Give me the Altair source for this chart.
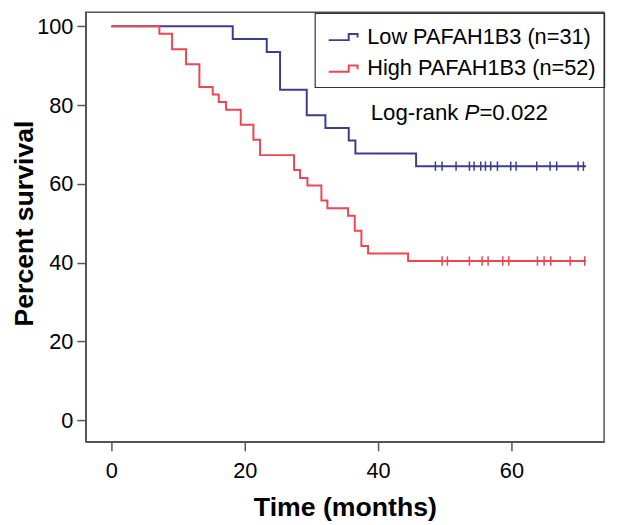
import altair as alt
import pandas as pd

# ---------------- data ----------------
low_label = "Low PAFAH1B3 (n=31)"
high_label = "High PAFAH1B3 (n=52)"

low_time = [0, 18.2, 23.3, 25.3, 29.3, 32.1, 35.6, 36.6, 45.7, 71.2]
low_surv = [100, 96.8, 93.5, 83.9, 77.4, 74.2, 71.0, 67.7, 64.5, 64.5]

high_time = [0, 7.2, 9.1, 11.2, 13.2, 15.2, 16.1, 17.2, 19.4, 21.3, 22.3,
             27.4, 28.3, 29.4, 31.5, 32.4, 35.5, 36.5, 37.5, 38.5, 44.5, 71.2]
high_surv = [100, 98.1, 94.2, 90.4, 84.6, 82.7, 80.8, 78.8, 75.0, 71.2, 67.3,
             63.5, 61.5, 59.6, 55.8, 53.8, 51.9, 48.1, 44.2, 42.3, 40.4, 40.4]

low_censor_time = [48.6, 49.6, 51.7, 53.7, 54.4, 55.4, 56.1, 56.9, 57.9,
                   59.9, 60.7, 63.8, 65.8, 66.8, 70.0, 70.8]
low_censor_surv = [64.5] * len(low_censor_time)
high_censor_time = [49.6, 50.4, 53.7, 55.6, 56.5, 58.7, 59.6, 63.9, 64.9,
                    65.9, 68.8, 71.0]
high_censor_surv = [40.4] * len(high_censor_time)

x_ticks = [0, 20, 40, 60]
y_ticks = [0, 20, 40, 60, 80, 100]

annot_x = [38.9]
annot_y = [76.2]

BLUE = "#3c3d8f"
RED = "#ee4651"
FONT = "Liberation Sans"

low_df = pd.DataFrame({"time": low_time, "surv": low_surv, "group": low_label})
high_df = pd.DataFrame({"time": high_time, "surv": high_surv, "group": high_label})
low_c = pd.DataFrame({"time": low_censor_time, "surv": low_censor_surv})
high_c = pd.DataFrame({"time": high_censor_time, "surv": high_censor_surv})
ann = pd.DataFrame({"time": annot_x, "surv": annot_y})

x_enc = alt.X(
    "time:Q",
    scale=alt.Scale(domain=[-3.85, 73.9], nice=False, zero=False),
    axis=alt.Axis(
        values=x_ticks, title="Time (months)", grid=False, tickSize=9,
        labelFontSize=22, labelBaseline="alphabetic", labelPadding=27,
        titleFontSize=27, titleFontWeight="bold", titleBaseline="alphabetic",
        titleY=75,
    ),
)
y_enc = alt.Y(
    "surv:Q",
    scale=alt.Scale(domain=[-5.5, 103.6], nice=False, zero=False),
    axis=alt.Axis(
        values=y_ticks, title="Percent survival", grid=False, tickSize=9,
        labelFontSize=22, labelPadding=4,
        titleFontSize=27, titleFontWeight="bold", titleBaseline="alphabetic",
        titleX=-54, titleY=213.5, titleAngle=270,
    ),
)

color_enc = alt.Color(
    "group:N",
    scale=alt.Scale(domain=[low_label, high_label], range=[BLUE, RED]),
    legend=alt.Legend(
        title=None, orient="none", legendX=232, legendY=1, direction="vertical",
        symbolType="M-1,0.22L0.35,0.22L0.35,-0.2L0.95,-0.2L0.95,0.05",
        symbolSize=900, symbolStrokeWidth=2, symbolFillColor="transparent",
        labelFontSize=22, labelFont=FONT, labelColor="black", labelOffset=8,
        labelLimit=0,
        strokeColor="#333333", padding=8, rowPadding=5, symbolOffset=5,
    ),
)

low_line = alt.Chart(low_df).mark_line(interpolate="step-after", strokeWidth=2).encode(
    x=x_enc, y=y_enc, color=color_enc)
high_line = alt.Chart(high_df).mark_line(interpolate="step-after", strokeWidth=2).encode(
    x=x_enc, y=y_enc, color=color_enc)

low_ticks = alt.Chart(low_c).mark_point(
    shape="M0,-1L0,1", size=90, filled=False, strokeWidth=1.5, color=BLUE, opacity=1
).encode(x=x_enc, y=y_enc)
high_ticks = alt.Chart(high_c).mark_point(
    shape="M0,-1L0,1", size=90, filled=False, strokeWidth=1.5, color=RED, opacity=1
).encode(x=x_enc, y=y_enc)

t1 = alt.Chart(ann).mark_text(align="left", baseline="alphabetic", fontSize=22.5,
                               font=FONT, color="black", text="Log-rank ").encode(x=x_enc, y=y_enc)
t2 = alt.Chart(ann).mark_text(align="left", baseline="alphabetic", fontSize=22.5, font=FONT,
                               fontStyle="italic", color="black", text="P", dx=95.0).encode(x=x_enc, y=y_enc)
t3 = alt.Chart(ann).mark_text(align="left", baseline="alphabetic", fontSize=22.5, font=FONT,
                               color="black", text="=0.022", dx=110.0).encode(x=x_enc, y=y_enc)

chart = alt.layer(low_line, high_line, low_ticks, high_ticks, t1, t2, t3).properties(
    width=524.8, height=435,
    autosize=alt.AutoSizeParams(type="none"),
    padding={"left": 78.7, "top": 1, "right": 7, "bottom": 81},
).configure_view(
    stroke="#555555", strokeWidth=1.5
).configure_axis(
    domainColor="#555555", domainWidth=1.5, tickColor="#555555", tickWidth=1.5,
    labelFont=FONT, titleFont=FONT, labelColor="black", titleColor="black",
).configure_legend(
    strokeWidth=1.2
)

chart.save("out.html", embed_options={"renderer": "svg", "actions": False})
